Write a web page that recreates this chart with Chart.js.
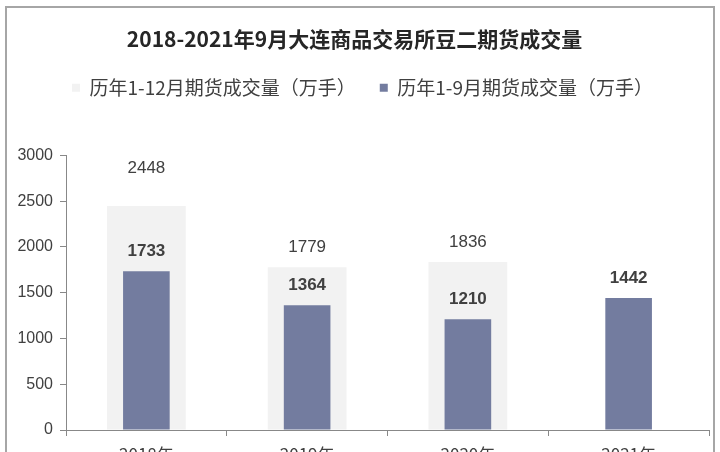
<!DOCTYPE html>
<html>
<head>
<meta charset="utf-8">
<script src="https://cdn.jsdelivr.net/npm/chart.js@4"></script>
<style>
  html, body { margin: 0; padding: 0; background: #fff; }
  #wrap { position: relative; width: 720px; height: 452px; overflow: hidden; }
  #frame { position: absolute; left: 5px; top: 6px; width: 706px; height: 460px;
           border: 2px solid #a6a6a6; border-bottom: none; }
  canvas { position: absolute; left: 0; top: 0; }
</style>
</head>
<body>
<div id="wrap">
  <div id="frame"></div>
  <canvas id="chart" width="720" height="452"></canvas>
</div>
<script>
const years = ['2018年', '2019年', '2020年', '2021年'];
const fullYear = [2448, 1779, 1836, null];
const janToSep = [1733, 1364, 1210, 1442];
const yTicks = [0, 500, 1000, 1500, 2000, 2500, 3000];

const textColor = '#404040';

// value labels above each bar
const valueLabels = {
    id: 'valueLabels',
    afterDatasetsDraw(chart) {
        const ctx = chart.ctx;
        ctx.save();
        ctx.fillStyle = textColor;
        ctx.textAlign = 'center';
        ctx.textBaseline = 'middle';
        chart.data.datasets.forEach((ds, i) => {
            const meta = chart.getDatasetMeta(i);
            ctx.font = (ds.labelBold ? 'bold ' : '') + '17px "Liberation Sans", Arial, sans-serif';
            meta.data.forEach((bar, j) => {
                const v = ds.data[j];
                if (v == null) return;
                const lift = (ds.labelLift && ds.labelLift[j]) || 20;
                ctx.fillText(String(v), bar.x, bar.y - lift);
            });
        });
        ctx.restore();
    }
};

// legend row counts the trailing padding, pull it back to centre it
const legendNudge = {
    id: 'legendNudge',
    afterLayout(chart) {
        if (chart.legend && chart.legend.lineWidths) chart.legend.lineWidths[0] -= 16;
    }
};

new Chart(document.getElementById('chart'), {
    type: 'bar',
    data: {
        labels: years,
        datasets: [
            {
                label: '历年1-12月期货成交量（万手）',
                data: fullYear,
                backgroundColor: '#f2f2f2',
                grouped: false,
                order: 1,
                barPercentage: 0.49,
                categoryPercentage: 1,
                labelLift: [38, 20, 20, 20]
            },
            {
                label: '历年1-9月期货成交量（万手）',
                data: janToSep,
                backgroundColor: '#737c9f',
                grouped: false,
                order: 0,
                barPercentage: 0.29,
                categoryPercentage: 1,
                labelBold: true
            }
        ]
    },
    options: {
        responsive: false,
        animation: false,
        layout: { padding: { left: 0, right: 11, top: 0, bottom: 0 } },
        plugins: {
            title: {
                display: true,
                text: '2018-2021年9月大连商品交易所豆二期货成交量',
                color: '#262626',
                font: { family: '"Noto Sans CJK SC", sans-serif', size: 21, weight: 'bold' },
                padding: { top: 26, bottom: 3 }
            },
            // empty spacer between legend and plot
            subtitle: {
                display: true,
                text: ' ',
                weight: 500,
                font: { size: 1 },
                padding: { top: 47, bottom: 0 }
            },
            legend: {
                labels: {
                    sort: (a, b) => a.datasetIndex - b.datasetIndex,
                    color: textColor,
                    boxWidth: 8,
                    boxHeight: 8,
                    padding: 24,
                    font: { family: '"Noto Sans CJK SC", sans-serif', size: 19 }
                }
            },
            tooltip: { enabled: false }
        },
        scales: {
            x: {
                grid: { drawOnChartArea: false, color: '#888', tickLength: 6 },
                border: { color: '#888' },
                ticks: {
                    color: textColor,
                    padding: 8,
                    font: { family: '"Noto Sans CJK SC", sans-serif', size: 17 }
                },
                afterFit(scale) { scale.height = 22; }
            },
            y: {
                min: 0,
                max: 3000,
                afterBuildTicks(scale) { scale.ticks = yTicks.map(v => ({ value: v })); },
                grid: { drawOnChartArea: false, color: '#888', tickLength: 6 },
                border: { color: '#888' },
                ticks: {
                    color: textColor,
                    padding: 7,
                    callback: v => String(v),
                    font: { family: '"Liberation Sans", Arial, sans-serif', size: 16 }
                },
                afterFit(scale) { scale.width = 66; }
            }
        }
    },
    plugins: [valueLabels, legendNudge]
});
</script>
</body>
</html>
